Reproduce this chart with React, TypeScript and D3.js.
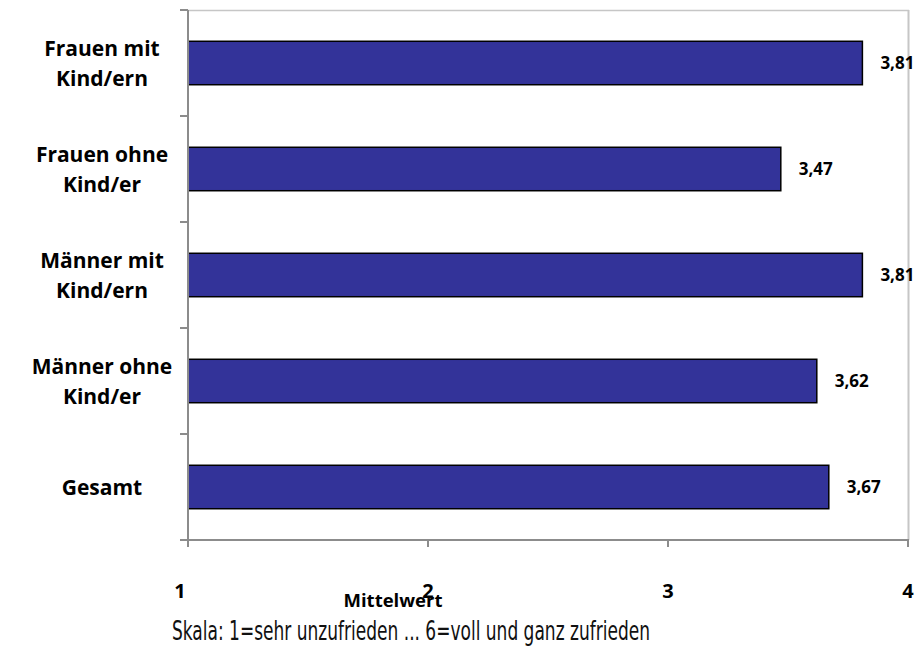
import React from "react";
import * as d3 from "d3";

const categories: string[][] = [
  ["Frauen mit", "Kind/ern"],
  ["Frauen ohne", "Kind/er"],
  ["Männer mit", "Kind/ern"],
  ["Männer ohne", "Kind/er"],
  ["Gesamt"],
];
const values: number[] = [3.81, 3.47, 3.81, 3.62, 3.67];
const valueLabels: string[] = ["3,81", "3,47", "3,81", "3,62", "3,67"];
const xTicks: number[] = [1, 2, 3, 4];
const xTitle = "Mittelwert";
const subtitle = "Skala: 1=sehr unzufrieden ... 6=voll und ganz zufrieden";

export default function App() {
  const W = 920, H = 653;
  const left = 188, right = 908, top = 10, bottom = 540;
  const x = d3.scaleLinear().domain([1, 4]).range([left, right]);
  const ids = categories.map((_, i) => String(i));
  const y = d3.scaleBand().domain(ids).range([top, bottom]).paddingInner(0.59).paddingOuter(0.295);
  const yBoundaries = d3.range(categories.length + 1).map((i) => top + (i * (bottom - top)) / categories.length);
  const labelFont = "'Open Sans', Lato, sans-serif";
  const axisColor = "#8c8c8c";
  return (
    <svg width={W} height={H} style={{ position: "absolute", left: 0, top: 0, background: "#fff" }}>
      {/* plot border (top, right) */}
      <line x1={left} x2={right + 1} y1={top + 0.5} y2={top + 0.5} stroke="#c6c6c6" strokeWidth={1.5} />
      <line x1={right + 0.5} x2={right + 0.5} y1={top} y2={bottom} stroke="#c6c6c6" strokeWidth={2} />
      {/* bars */}
      {values.map((v, i) => (
        <g key={i}>
          <rect
            x={x(1)}
            y={y(String(i))!}
            width={x(v) - x(1)}
            height={y.bandwidth()}
            fill="#333399"
            stroke="#000"
            strokeWidth={1.5}
          />
          <text
            x={x(v) + 18}
            y={y(String(i))! + y.bandwidth() / 2 + 6}
            fontFamily={labelFont}
            fontWeight={700}
            fontSize={17}
            fill="#000"
          >
            {valueLabels[i]}
          </text>
        </g>
      ))}
      {/* y axis */}
      <line x1={left} x2={left} y1={top} y2={bottom + 7} stroke={axisColor} strokeWidth={2} />
      {yBoundaries.map((b, i) => (
        <line key={i} x1={left - 8} x2={left} y1={b} y2={b} stroke={axisColor} strokeWidth={2} />
      ))}
      {/* x axis */}
      <line x1={left - 8} x2={right + 1} y1={bottom} y2={bottom} stroke={axisColor} strokeWidth={2} />
      {xTicks.map((t) => (
        <g key={t}>
          <line x1={x(t)} x2={x(t)} y1={bottom} y2={bottom + 7} stroke={axisColor} strokeWidth={2} />
          <text x={x(t) - (t === 1 ? 8 : 0)} y={bottom + 58} textAnchor="middle" fontFamily={labelFont} fontWeight={700} fontSize={20}>
            {t}
          </text>
        </g>
      ))}
      {/* category labels */}
      {categories.map((lines, i) => {
        const cy = y(String(i))! + y.bandwidth() / 2;
        const lh = 30;
        const startY = cy - ((lines.length - 1) * lh) / 2 + 8;
        return (
          <text key={i} textAnchor="middle" fontFamily={labelFont} fontWeight={700} fontSize={21} fill="#000">
            {lines.map((l, j) => (
              <tspan key={j} x={102} y={startY + j * lh}>
                {l}
              </tspan>
            ))}
          </text>
        );
      })}
      <text x={393} y={607} textAnchor="middle" fontFamily={labelFont} fontWeight={700} fontSize={18.5}>
        {xTitle}
      </text>
      <text
        x={411}
        y={640}
        textAnchor="middle"
        fontFamily="'DejaVu Sans Condensed', 'DejaVu Sans', sans-serif"
        fontSize={27}
        fill="#111"
        textLength={478}
        lengthAdjust="spacingAndGlyphs"
      >
        {subtitle}
      </text>
    </svg>
  );
}
